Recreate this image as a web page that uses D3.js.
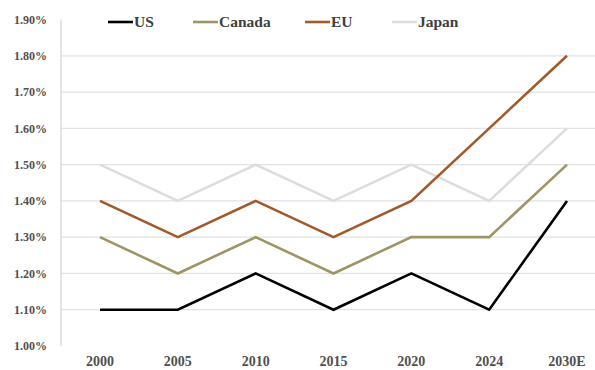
<!DOCTYPE html>
<html>
<head>
<meta charset="utf-8">
<script src="https://cdn.jsdelivr.net/npm/d3@7/dist/d3.min.js"></script>
<style>
html,body{margin:0;padding:0;background:#fff;}
svg{display:block;}
text{font-family:"Liberation Serif","DejaVu Serif",serif;}
</style>
</head>
<body>
<svg id="chart" width="595" height="370"></svg>
<script>
const categories = ["2000","2005","2010","2015","2020","2024","2030E"];
const seriesNames = ["US","Canada","EU","Japan"];
const usValues     = [1.1,1.1,1.2,1.1,1.2,1.1,1.4];
const canadaValues = [1.3,1.2,1.3,1.2,1.3,1.3,1.5];
const euValues     = [1.4,1.3,1.4,1.3,1.4,1.6,1.8];
const japanValues  = [1.5,1.4,1.5,1.4,1.5,1.4,1.6];
const yTicks = [1.0,1.1,1.2,1.3,1.4,1.5,1.6,1.7,1.8,1.9];
const colors = {US:"#000000", Canada:"#9d9664", EU:"#a35a2b", Japan:"#dddddd"};

const series = [
  {name:"US", values:usValues},
  {name:"Canada", values:canadaValues},
  {name:"EU", values:euValues},
  {name:"Japan", values:japanValues}
];

const svg = d3.select("#chart");
const x = d3.scalePoint().domain(categories).range([100, 567]);
const y = d3.scaleLinear().domain([1.0, 1.9]).range([346, 19.5]);
const axisX = 61;

// gridlines
svg.append("g").selectAll("line")
  .data(yTicks.filter(d => d > 1.0001 && d < 1.8999))
  .join("line")
  .attr("x1", axisX).attr("x2", 595)
  .attr("y1", d => y(d)).attr("y2", d => y(d))
  .attr("stroke", "#e2e2e2").attr("stroke-width", 1.2);

// y axis line
svg.append("line")
  .attr("x1", axisX).attr("x2", axisX)
  .attr("y1", y(1.9)).attr("y2", y(1.0))
  .attr("stroke", "#d4d4d4").attr("stroke-width", 1.2);

// y labels
svg.append("g").selectAll("text")
  .data(yTicks).join("text")
  .attr("x", 47).attr("y", d => y(d))
  .attr("dy", "0.35em")
  .attr("text-anchor", "end")
  .attr("font-size", 12)
  .attr("font-weight", "bold")
  .attr("fill", "#505050")
  .text(d => d.toFixed(2) + "%");

// x labels
svg.append("g").selectAll("text")
  .data(categories).join("text")
  .attr("x", d => x(d)).attr("y", 361)
  .attr("dy", "0.35em")
  .attr("text-anchor", "middle")
  .attr("font-size", 14)
  .attr("font-weight", "bold")
  .attr("fill", "#505050")
  .text(d => d);

// lines
const line = d3.line().x((d,i) => x(categories[i])).y(d => y(d));
const drawOrder = ["Japan","US","Canada","EU"];
drawOrder.forEach(n => {
  const s = series.find(t => t.name === n);
  svg.append("path")
    .datum(s.values)
    .attr("d", line)
    .attr("fill", "none")
    .attr("stroke", colors[n])
    .attr("stroke-width", 2.6)
    .attr("stroke-linejoin", "miter");
});

// legend
const legendX = [108, 193, 305, 392];
const lg = svg.append("g");
seriesNames.forEach((n, i) => {
  lg.append("line")
    .attr("x1", legendX[i]).attr("x2", legendX[i] + 25)
    .attr("y1", 22).attr("y2", 22)
    .attr("stroke", colors[n]).attr("stroke-width", 2.6);
  lg.append("text")
    .attr("x", legendX[i] + 26).attr("y", 22)
    .attr("dy", "0.35em")
    .attr("font-size", 15.5)
    .attr("font-weight", "bold")
    .attr("fill", "#404040")
    .text(n);
});
</script>
</body>
</html>
